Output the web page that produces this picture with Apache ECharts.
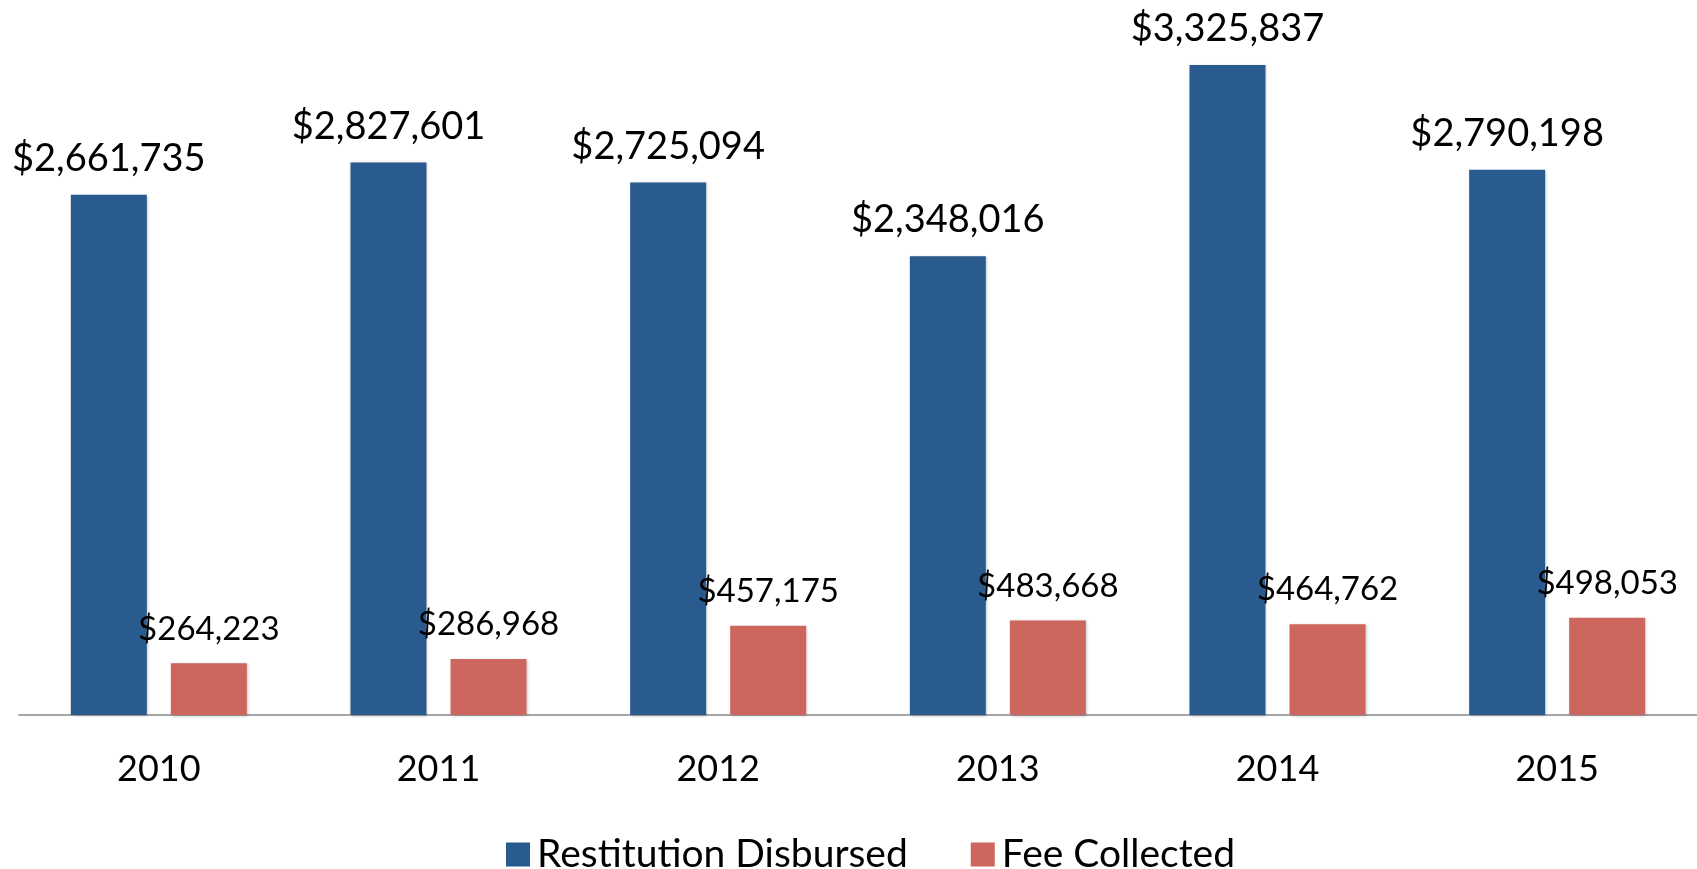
<!DOCTYPE html>
<html>
<head>
<meta charset="utf-8">
<script src="https://cdn.jsdelivr.net/npm/echarts@6/dist/echarts.min.js"></script>
<style>
  html, body { margin: 0; padding: 0; background: #fff; }
  #chart { width: 1697px; height: 869px; }
</style>
</head>
<body>
<div id="chart"></div>
<script>
// data
const years = ['2010', '2011', '2012', '2013', '2014', '2015'];
const restitution = [2661735, 2827601, 2725094, 2348016, 3325837, 2790198];
const fees = [264223, 286968, 457175, 483668, 464762, 498053];

const FONT = 'Lato';
const money = v => '$' + v.value.toLocaleString('en-US');

const chart = echarts.init(document.getElementById('chart'));

const barShadow = {
  shadowBlur: 3,
  shadowColor: 'rgba(0,0,0,0.25)',
  shadowOffsetX: 1,
  shadowOffsetY: 1
};

chart.setOption({
  animation: false,
  textStyle: { fontFamily: FONT, color: '#000' },
  grid: { left: 19, width: 1683, top: 31, bottom: 154 },
  legend: {
    left: 501,
    top: 830,
    icon: 'rect',
    itemWidth: 24,
    itemHeight: 24,
    itemGap: 63,
    textStyle: { fontFamily: FONT, fontSize: 39, color: '#000', padding: [0, 0, 0, 2] },
    data: ['Restitution Disbursed', 'Fee Collected']
  },
  xAxis: {
    type: 'category',
    data: years,
    axisLine: { lineStyle: { color: '#a6a6a6', width: 2 } },
    axisTick: { show: false },
    axisLabel: { fontFamily: FONT, fontSize: 36, color: '#000', margin: 36 }
  },
  yAxis: {
    type: 'value',
    min: 0,
    max: 3500000,
    show: false,
    splitLine: { show: false }
  },
  series: [
    {
      name: 'Restitution Disbursed',
      type: 'bar',
      data: restitution,
      barWidth: 76,
      barGap: '31.6%',
      itemStyle: Object.assign({ color: '#295b8e' }, barShadow),
      label: {
        show: true,
        position: 'top',
        distance: 17,
        formatter: money,
        fontFamily: FONT,
        fontSize: 38,
        color: '#000'
      }
    },
    {
      name: 'Fee Collected',
      type: 'bar',
      data: fees,
      barWidth: 76,
      itemStyle: Object.assign({ color: '#cc665f' }, barShadow),
      label: {
        show: true,
        position: 'top',
        distance: 18,
        formatter: money,
        fontFamily: FONT,
        fontSize: 33,
        color: '#000'
      }
    }
  ]
});
</script>
</body>
</html>
